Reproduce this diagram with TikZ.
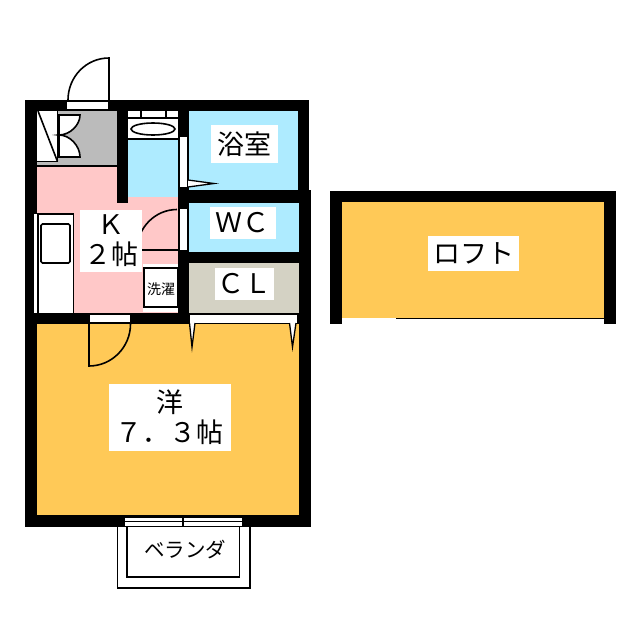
\documentclass[tikz,border=0pt]{standalone}
\usepackage{fontspec}
\setmainfont{Noto Sans CJK JP}
\definecolor{roomor}{HTML}{FFC957}
\definecolor{bathb}{HTML}{AEEBFF}
\definecolor{kpink}{HTML}{FFC8C8}
\definecolor{entg}{HTML}{BBBBBB}
\definecolor{clg}{HTML}{D4D2C4}
\tikzset{
  wall/.style={fill=black,draw=none},
  thin line/.style={draw=black,line width=1.3pt},
  mid line/.style={draw=black,line width=1.6pt},
  opening/.style={fill=white,draw=none},
  label box/.style={fill=white,inner sep=0pt,align=center,text=black,font=\fontsize{27}{30}\selectfont},
}
\begin{document}
\begin{tikzpicture}[x=1pt,y=-1pt]
\useasboundingbox (0,0) rectangle (640,640);
\fill[white] (0,0) rectangle (640,640);
% room fills
\fill[entg] (37,110) rectangle (117,166);
\fill[kpink] (37,166) rectangle (117,313);
\fill[kpink] (117,197) rectangle (180,313);
\fill[bathb] (128,111) rectangle (178,197);
\fill[bathb] (188,111) rectangle (298,190);
\fill[bathb] (188,202) rectangle (299,252);
\fill[clg] (188,263) rectangle (299,313);
\fill[roomor] (37,324) rectangle (299,515);
\fill[roomor] (342,202) rectangle (604,318);
% walls
\path[wall] (25,100) rectangle (309,111);
\path[wall] (25,100) rectangle (37,527);
\path[wall] (25,515) rectangle (311,527);
\path[wall] (298,100) rectangle (309,190);
\path[wall] (299,190) rectangle (311,527);
\path[wall] (117,100) rectangle (128,203);
\path[wall] (178,100) rectangle (189,324);
\path[wall] (178,190) rectangle (311,203);
\path[wall] (178,252) rectangle (311,263);
\path[wall] (25,313) rectangle (311,324);
\path[wall] (330,191) rectangle (616,202);
\path[wall] (330,191) rectangle (342,324);
\path[wall] (604,191) rectangle (616,324);
\draw[thin line] (396,318.5) -- (604,318.5);
% entrance
\fill[opening] (67,102) rectangle (108,109);
\draw[mid line] (109,100) -- (109,58) .. controls (86,58) and (68,77) .. (68,100);
\draw[thin line] (37,166) -- (117,166);
\draw[mid line,fill=white] (37,110.5) -- (57.5,110.5) -- (57.5,161.5) -- (37,161.5);
\draw[mid line] (38,111) -- (57.5,161.5);
\draw[mid line,fill=white] (59,115) -- (80,115) .. controls (80,125) and (70,135) .. (59,135) .. controls (70,135) and (80,146) .. (80,157) -- (59,157) -- cycle;
% unit bath sink
\fill[white] (128,111) rectangle (178,139);
\draw[thin line] (128,118) -- (178,118);
\draw[thin line] (128,139) -- (178,139);
\draw[thin line] (141,111) -- (141,118);
\draw[thin line] (166,111) -- (166,118);
\draw[mid line] (153,129) ellipse[x radius=22,y radius=6];
% bath door
\fill[opening] (179.5,137) rectangle (187,187);
\draw[thin line,fill=white] (188,180) -- (214,183.5) -- (188,187);
% WC door
\fill[opening] (180,209) rectangle (187,249.5);
\draw[mid line] (137,250) .. controls (137,228) and (155,209.5) .. (177,209.5);
\draw[mid line] (137,250) -- (180,250);
% kitchen
\fill[white] (34,214) rectangle (38,313);
\draw[mid line,fill=white] (38,313) -- (38,214) -- (73.5,214) -- (73.5,313);
\fill[white] (34,215) rectangle (37,313);
\draw[mid line,rounded corners=1.5pt] (41,224) rectangle (70,263);
% washing machine
\fill[white] (142.5,264) rectangle (178,312);
\draw[mid line] (144,268) rectangle (177.5,307);
\node[font=\fontsize{14}{16}\selectfont] (wash) at (161,289) {洗濯};
% main door
\fill[opening] (90,315) rectangle (130,322);
\draw[mid line] (130.5,324) .. controls (130.5,347) and (112,366) .. (89,366) -- (89,322);
% closet door
\fill[opening] (189.5,315) rectangle (297,322.5);
\draw[thin line,fill=white] (189.5,323) -- (192,347) -- (195,323);
\draw[thin line,fill=white] (289.5,323) -- (292.5,347) -- (296,323);
% veranda
\draw[mid line] (117.5,527) -- (117.5,588) -- (250,588) -- (250,527);
\draw[mid line] (127,527) -- (127,577) -- (239.5,577) -- (239.5,527);
\fill[opening] (125,518) rectangle (242,526);
\draw[thin line] (125,521.5) -- (242,521.5);
\draw[thin line] (183,518) -- (183,527);
% labels
\node[label box,minimum width=67pt,minimum height=38pt] (bath) at (244.5,144) {浴室};
\node[label box,minimum width=66pt,minimum height=32pt] (wc) at (242.5,223) {ＷＣ};
\node[label box,minimum width=59pt,minimum height=32pt] (cl) at (244.5,284) {ＣＬ};
\node[label box,minimum width=62pt,minimum height=62pt] (kit) at (111,241) {Ｋ\\２帖};
\node[label box,minimum width=122pt,minimum height=67pt] (room) at (169.5,417) {洋\\７．３帖};
\node[label box,minimum width=91pt,minimum height=35pt] (loft) at (473.5,253.5) {ロフト};
\node[font=\fontsize{20.5}{24}\selectfont] (ver) at (185,550) {ベランダ};
\end{tikzpicture}
\end{document}
